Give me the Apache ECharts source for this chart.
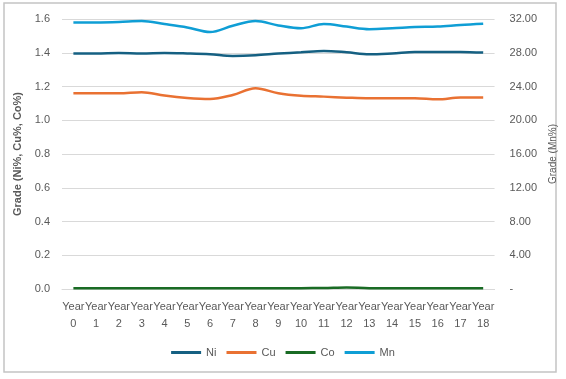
<!DOCTYPE html>
<html>
<head>
<meta charset="utf-8">
<script src="https://cdn.jsdelivr.net/npm/echarts@6/dist/echarts.min.js"></script>
<style>
html,body{margin:0;padding:0;background:#fff;}
#chart{width:566px;height:379px;}
</style>
</head>
<body>
<div id="chart"></div>
<script>
var years = ['Year\n0','Year\n1','Year\n2','Year\n3','Year\n4','Year\n5','Year\n6','Year\n7','Year\n8','Year\n9','Year\n10','Year\n11','Year\n12','Year\n13','Year\n14','Year\n15','Year\n16','Year\n17','Year\n18'];
var ni = [1.396,1.396,1.398,1.396,1.399,1.396,1.391,1.381,1.385,1.395,1.403,1.411,1.403,1.391,1.396,1.404,1.405,1.405,1.401];
var cu = [1.160,1.160,1.160,1.166,1.146,1.132,1.126,1.150,1.190,1.160,1.145,1.140,1.134,1.130,1.130,1.130,1.124,1.135,1.135];
var co = [0.005,0.005,0.005,0.005,0.005,0.005,0.005,0.005,0.005,0.005,0.005,0.006,0.009,0.005,0.005,0.005,0.005,0.005,0.005];
var mn = [31.60,31.60,31.65,31.76,31.40,31.00,30.46,31.20,31.76,31.24,30.90,31.40,31.10,30.80,30.90,31.05,31.10,31.30,31.45];
var leftTicks = {min:0, max:1.6, interval:0.2};
var rightTicks = {min:0, max:32, interval:4};

var font = 'Liberation Sans';
var grey = '#595959';
var chart = echarts.init(document.getElementById('chart'));
function mk(name, data, color, yIdx){
  return {name:name, type:'line', data:data, yAxisIndex:yIdx, smooth:0.35, symbol:'none',
    lineStyle:{color:color, width:2.5}, itemStyle:{color:color}};
}
chart.setOption({
  animation:false,
  backgroundColor:'#fff',
  graphic:[{type:'rect', shape:{x:4, y:3, width:552, height:369}, style:{fill:null, stroke:'#c4c4c4', lineWidth:1.5}, silent:true}],
  grid:{left:62, right:66, top:19, bottom:90},
  legend:{bottom:16, left:'center', itemWidth:30, itemHeight:3, itemGap:10, icon:'rect',
    textStyle:{fontFamily:font, fontSize:11, color:grey},
    data:['Ni','Cu','Co','Mn']},
  xAxis:{type:'category', data:years, boundaryGap:true,
    axisLine:{show:true, lineStyle:{color:'#d9d9d9'}}, axisTick:{show:false},
    axisLabel:{interval:0, fontFamily:font, fontSize:11, color:grey, lineHeight:17, margin:9}},
  yAxis:[
    {type:'value', min:leftTicks.min, max:leftTicks.max, interval:leftTicks.interval,
     name:'Grade (Ni%, Cu%, Co%)', nameLocation:'middle', nameGap:38, nameRotate:90,
     nameTextStyle:{fontFamily:font, fontSize:11, color:grey, fontWeight:'bold'},
     axisLine:{show:false}, axisTick:{show:false},
     axisLabel:{fontFamily:font, fontSize:11, color:grey, margin:12, formatter:function(v){return v.toFixed(1);}},
     splitLine:{lineStyle:{color:'#d9d9d9', width:1}}},
    {type:'value', position:'right', min:rightTicks.min, max:rightTicks.max, interval:rightTicks.interval,
     name:'Grade (Mn%)', nameLocation:'middle', nameGap:46, nameRotate:90,
     nameTextStyle:{fontFamily:font, fontSize:10, color:grey},
     axisLine:{show:false}, axisTick:{show:false},
     axisLabel:{fontFamily:font, fontSize:11, color:grey, margin:15, formatter:function(v){return v===0?'-':v.toFixed(2);}},
     splitLine:{show:false}}
  ],
  series:[
    mk('Ni', ni, '#156082', 0),
    mk('Cu', cu, '#E97132', 0),
    mk('Co', co, '#196B24', 0),
    mk('Mn', mn, '#0F9ED5', 1)
  ]
});
</script>
</body>
</html>
